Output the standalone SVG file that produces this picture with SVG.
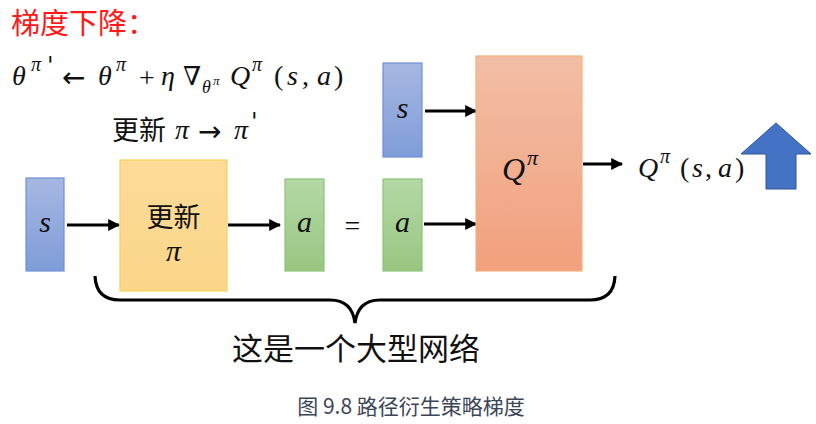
<svg xmlns="http://www.w3.org/2000/svg" width="816" height="424" viewBox="0 0 816 424">
<defs>
<linearGradient id="gBlue" x1="0" y1="0" x2="0" y2="1"><stop offset="0" stop-color="#a7b7e2"/><stop offset="1" stop-color="#7e9dd8"/></linearGradient>
<linearGradient id="gGreen" x1="0" y1="0" x2="0" y2="1"><stop offset="0" stop-color="#b5d8a6"/><stop offset="1" stop-color="#97c781"/></linearGradient>
<linearGradient id="gYellow" x1="0" y1="0" x2="0" y2="1"><stop offset="0" stop-color="#fddb98"/><stop offset="1" stop-color="#fbd68a"/></linearGradient>
<linearGradient id="gOrange" x1="0" y1="0" x2="0" y2="1"><stop offset="0" stop-color="#f2bea6"/><stop offset="1" stop-color="#f2a07d"/></linearGradient>
<marker id="ah" viewBox="0 0 10 10" refX="9" refY="5" markerWidth="4" markerHeight="4" orient="auto" markerUnits="strokeWidth">
<path d="M0,0 L10,5 L0,10 z" fill="#000"/>
</marker>
</defs>
<style>
.m{font-family:"Liberation Serif","DejaVu Serif",serif;font-style:italic;fill:#111}
.mr{font-family:"Liberation Serif","DejaVu Serif",serif;fill:#111}
.ar{font-family:"DejaVu Sans",sans-serif;fill:#111}
.pr{font-family:"DejaVu Serif",serif;font-style:italic;fill:#111}
.cjk{font-family:"Noto Sans CJK SC",sans-serif;fill:#111}
.blue{fill:url(#gBlue);stroke:#6e8fd6;stroke-width:1.2}
.green{fill:url(#gGreen);stroke:#8cc47a;stroke-width:1.2}
.yellow{fill:url(#gYellow);stroke:#f6d257;stroke-width:1.2}
.orange{fill:url(#gOrange);stroke:#f0b47c;stroke-width:1.2}
.conn{stroke:#000;stroke-width:3;fill:none;marker-end:url(#ah)}
</style>
<rect width="816" height="424" fill="#fff"/>

<text x="11" y="34" font-family="Noto Sans CJK SC,sans-serif" font-size="29" fill="#ff1a1a">梯度下降：</text>

<g id="formula">
<text class="m" x="12" y="85" font-size="28">θ</text>
<text class="m" x="31" y="71" font-size="20">π</text>
<text class="pr" x="47" y="74" font-size="24">'</text>
<text class="ar" x="62" y="87" font-size="28">←</text>
<text class="m" x="98" y="85" font-size="28">θ</text>
<text class="m" x="116" y="71" font-size="20">π</text>
<text class="mr" x="139" y="87" font-size="28">+</text>
<text class="m" x="161" y="85" font-size="28">η</text>
<text class="m" x="183" y="85" font-size="26">∇</text>
<text class="m" x="202" y="93" font-size="18">θ</text>
<text class="m" x="213" y="85" font-size="13">π</text>
<text class="m" x="230" y="85" font-size="28">Q</text>
<text class="m" x="252" y="71" font-size="20">π</text>
<text class="mr" x="274" y="85" font-size="28">(</text>
<text class="m" x="287" y="85" font-size="28">s</text>
<text class="mr" x="302" y="85" font-size="28">,</text>
<text class="m" x="317" y="85" font-size="28">a</text>
<text class="mr" x="334" y="85" font-size="28">)</text>
</g>

<g id="update-label">
<text class="cjk" x="112" y="140" font-size="27">更新</text>
<text class="m" x="175" y="139" font-size="28">π</text>
<text class="ar" x="198" y="141" font-size="28">→</text>
<text class="m" x="234" y="139" font-size="28">π</text>
<text class="pr" x="251" y="130" font-size="24">'</text>
</g>

<g id="connectors">
<line class="conn" x1="67" y1="225" x2="119" y2="225"/>
<line class="conn" x1="228" y1="225" x2="280" y2="225"/>
<line class="conn" x1="425" y1="111" x2="476" y2="111"/>
<line class="conn" x1="424" y1="224" x2="476" y2="224"/>
<line class="conn" x1="583" y1="164" x2="622" y2="164"/>
</g>

<g id="s1">
<rect class="blue" x="26" y="178" width="38" height="93"/>
<text class="m" x="45" y="232" font-size="30" text-anchor="middle">s</text>
</g>

<g id="policy">
<rect class="yellow" x="120" y="160" width="107" height="131"/>
<text class="cjk" x="173.5" y="227" font-size="27" text-anchor="middle">更新</text>
<text class="m" x="173.5" y="261" font-size="30" text-anchor="middle">π</text>
</g>

<g id="a1">
<rect class="green" x="285" y="179" width="39" height="92"/>
<text class="m" x="304.5" y="232" font-size="30" text-anchor="middle">a</text>
</g>

<text class="mr" x="352.5" y="235" font-size="28" text-anchor="middle">=</text>

<g id="s2">
<rect class="blue" x="383" y="63" width="39" height="94"/>
<text class="m" x="402.5" y="118" font-size="30" text-anchor="middle">s</text>
</g>

<g id="a2">
<rect class="green" x="383" y="179" width="39" height="92"/>
<text class="m" x="402.5" y="232" font-size="30" text-anchor="middle">a</text>
</g>

<g id="q">
<rect class="orange" x="476" y="56" width="106" height="215"/>
<text class="m" x="502" y="180" font-size="32">Q</text>
<text class="m" x="527" y="165" font-size="22">π</text>
</g>

<g id="output">
<text class="m" x="638" y="177" font-size="28">Q</text>
<text class="m" x="660" y="163" font-size="20">π</text>
<text class="mr" x="680" y="177" font-size="28">(</text>
<text class="m" x="692" y="177" font-size="28">s</text>
<text class="mr" x="705" y="177" font-size="28">,</text>
<text class="m" x="718" y="177" font-size="28">a</text>
<text class="mr" x="735" y="177" font-size="28">)</text>
</g>

<g id="up-arrow">
<path d="M741,154 L776,123 L811,154 L796,154 L796,189 L766,189 L766,154 Z" fill="#4472c4" stroke="#2f5597" stroke-width="1"/>
</g>

<g id="brace">
<path d="M95,276 Q96,300 120,300 L330,300 Q352,300 355,323 Q358,300 380,300 L590,300 Q614,300 615,276" fill="none" stroke="#000" stroke-width="3.2"/>
</g>

<text class="cjk" x="356" y="360" font-size="31" text-anchor="middle">这是一个大型网络</text>

<text x="411" y="414" font-family="Noto Sans CJK SC,sans-serif" font-size="21" fill="#3c4558" text-anchor="middle">图 9.8 路径衍生策略梯度</text>
</svg>
